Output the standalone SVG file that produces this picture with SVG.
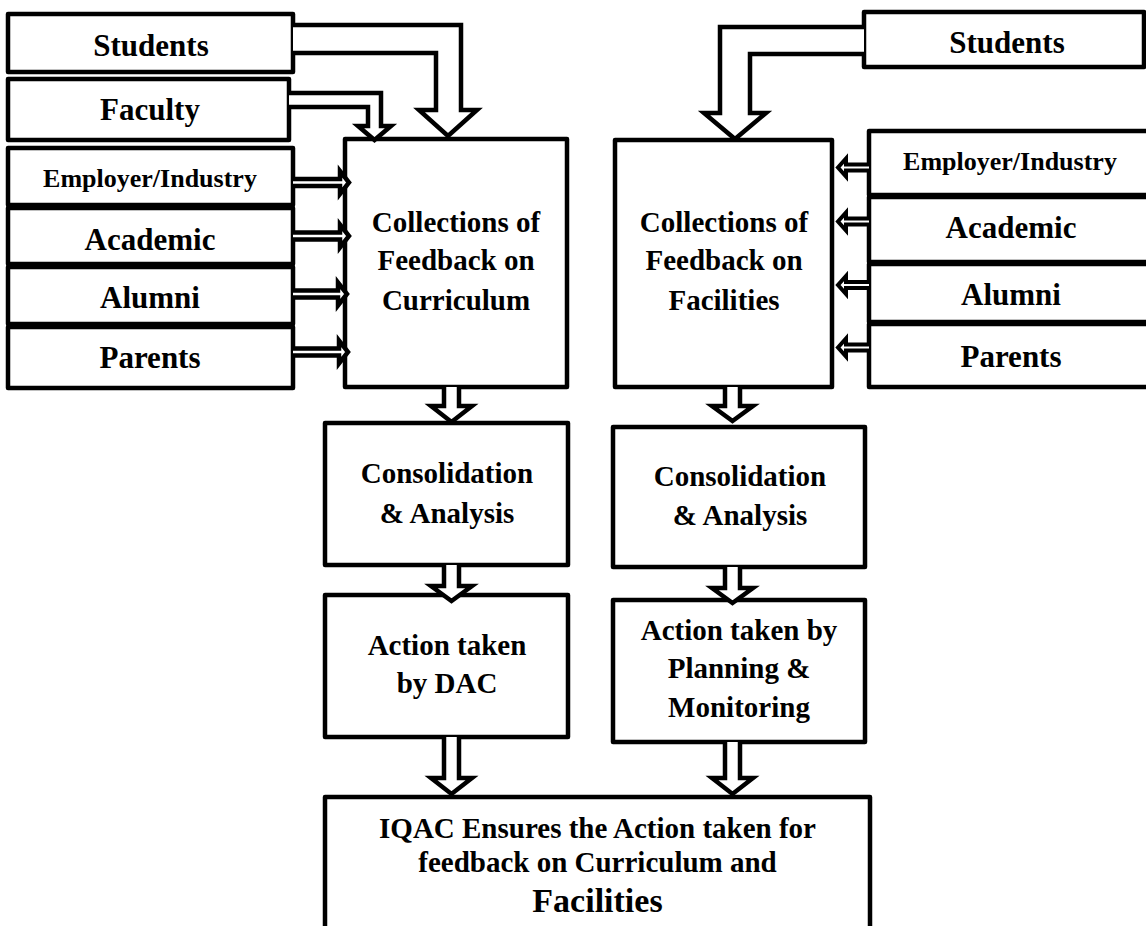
<svg xmlns="http://www.w3.org/2000/svg" width="1146" height="926" viewBox="0 0 1146 926">
  <style>
    .box { fill: #fff; stroke: #000; stroke-width: 4.5; stroke-linejoin: round; }
    .arr { fill: #fff; stroke: #000; stroke-width: 4.5; stroke-linejoin: miter; stroke-miterlimit: 6; }
    .sarr { fill: #fff; stroke: #000; stroke-width: 4.5; stroke-linejoin: miter; stroke-miterlimit: 6; }
    .sarr-r { fill: #fff; stroke: #000; stroke-width: 4; stroke-linejoin: miter; stroke-miterlimit: 6; }
    text { font-family: "Liberation Serif", "Times New Roman", serif; font-weight: bold; text-anchor: middle; fill: #000; }
    .t29 { font-size: 29px; }
    .t31 { font-size: 31px; }
    .t26 { font-size: 26px; }
    .t34 { font-size: 34px; }
  </style>
  <rect width="1146" height="926" fill="#fff"/>

  <!-- Stakeholders: curriculum side -->
  <g id="cur-students"><rect class="box" x="8" y="14" width="285" height="58"/><text class="t31" x="151" y="56">Students</text></g>
  <g id="cur-faculty"><rect class="box" x="8" y="79" width="281" height="61"/><text class="t31" x="150" y="120">Faculty</text></g>
  <g id="cur-employer"><rect class="box" x="8" y="148" width="285" height="57"/><text class="t26" x="150" y="187">Employer/Industry</text></g>
  <g id="cur-academic"><rect class="box" x="8" y="208" width="285" height="56"/><text class="t31" x="150" y="250">Academic</text></g>
  <g id="cur-alumni"><rect class="box" x="8" y="267" width="285" height="57"/><text class="t31" x="150" y="308">Alumni</text></g>
  <g id="cur-parents"><rect class="box" x="8" y="327" width="285" height="61"/><text class="t31" x="150" y="368">Parents</text></g>

  <!-- Stakeholders: facilities side -->
  <g id="fac-students"><rect class="box" x="864" y="12" width="280" height="55"/><text class="t31" x="1007" y="53">Students</text></g>
  <g id="fac-employer"><rect class="box" x="869" y="131" width="290" height="64"/><text class="t26" x="1010" y="170">Employer/Industry</text></g>
  <g id="fac-academic"><rect class="box" x="869" y="197" width="290" height="65"/><text class="t31" x="1011" y="238">Academic</text></g>
  <g id="fac-alumni"><rect class="box" x="869" y="264" width="290" height="58"/><text class="t31" x="1011" y="305">Alumni</text></g>
  <g id="fac-parents"><rect class="box" x="869" y="324" width="290" height="63"/><text class="t31" x="1011" y="367">Parents</text></g>

  <!-- Collection boxes -->
  <g id="collect-curriculum"><rect class="box" x="345" y="139" width="222" height="248"/>
    <text class="t29" x="456" y="232">Collections of</text>
    <text class="t29" x="456" y="270">Feedback on</text>
    <text class="t29" x="456" y="310">Curriculum</text></g>
  <g id="collect-facilities"><rect class="box" x="615" y="140" width="217" height="247"/>
    <text class="t29" x="724" y="232">Collections of</text>
    <text class="t29" x="724" y="270">Feedback on</text>
    <text class="t29" x="724" y="310">Facilities</text></g>

  <!-- Consolidation -->
  <g id="consolidate-curriculum"><rect class="box" x="325" y="423" width="243" height="142"/>
    <text class="t29" x="447" y="483">Consolidation</text>
    <text class="t29" x="447" y="523">&amp; Analysis</text></g>
  <g id="consolidate-facilities"><rect class="box" x="613" y="427" width="252" height="140"/>
    <text class="t29" x="740" y="486">Consolidation</text>
    <text class="t29" x="740" y="525">&amp; Analysis</text></g>

  <!-- Actions -->
  <g id="action-dac"><rect class="box" x="325" y="595" width="243" height="142"/>
    <text class="t29" x="447" y="655">Action taken</text>
    <text class="t29" x="447" y="693">by DAC</text></g>
  <g id="action-planning"><rect class="box" x="613" y="600" width="252" height="142"/>
    <text class="t29" x="739" y="640">Action taken by</text>
    <text class="t29" x="739" y="678">Planning &amp;</text>
    <text class="t29" x="739" y="717">Monitoring</text></g>

  <!-- IQAC -->
  <g id="iqac"><rect class="box" x="325" y="797" width="545" height="160"/>
    <text class="t29" x="597.5" y="838">IQAC Ensures the Action taken for</text>
    <text class="t29" x="597.5" y="872">feedback on Curriculum and</text>
    <text class="t34" x="597.5" y="912">Facilities</text></g>

  <!-- Connectors: hollow block arrows -->
  <g id="connectors">
    <path class="arr" d="M293 25 H461 V110 H477 L448 136 L419 110 H436 V53 H293"/>
    <path class="arr" d="M289 93 H381 V126 H391 L374.5 140 L358 126 H368 V107 H289"/>
    <path class="arr" d="M864 27 H720 V113 H704 L735 139 L766 113 H750 V54 H864"/>

    <path class="sarr" d="M293 179 H340 V171 L349 182.5 L340 194 V186 H293"/>
    <path class="sarr" d="M293 232.5 H340 V224.5 L349 236 L340 247.5 V239.5 H293"/>
    <path class="sarr" d="M293 290.5 H338 V282.5 L347 294 L338 305.5 V297.5 H293"/>
    <path class="sarr" d="M293 348.5 H339 V340.5 L348 352 L339 363.5 V355.5 H293"/>

    <path class="sarr-r" d="M869 164.5 H846 V158.5 L838 167.5 L846 176.5 V170.5 H869"/>
    <path class="sarr-r" d="M869 218.5 H846 V212.5 L838 221.5 L846 230.5 V224.5 H869"/>
    <path class="sarr-r" d="M869 282 H846 V276 L838 285 L846 294 V288 H869"/>
    <path class="sarr-r" d="M869 344.5 H846 V338.5 L838 347.5 L846 356.5 V350.5 H869"/>

    <path class="arr" d="M444 387 V406 H431 L451.5 422 L472 406 H459 V387"/>
    <path class="arr" d="M444 565 V586 H431 L451.5 601 L472 586 H459 V565"/>
    <path class="arr" d="M444 737 V778 H431 L451.5 794 L472 778 H459 V737"/>

    <path class="arr" d="M725 387 V406 H712 L732.5 421 L753 406 H740 V387"/>
    <path class="arr" d="M725 567 V588 H712 L732.5 603 L753 588 H740 V567"/>
    <path class="arr" d="M725 742 V778 H712 L732.5 794 L753 778 H740 V742"/>
  </g>
</svg>
